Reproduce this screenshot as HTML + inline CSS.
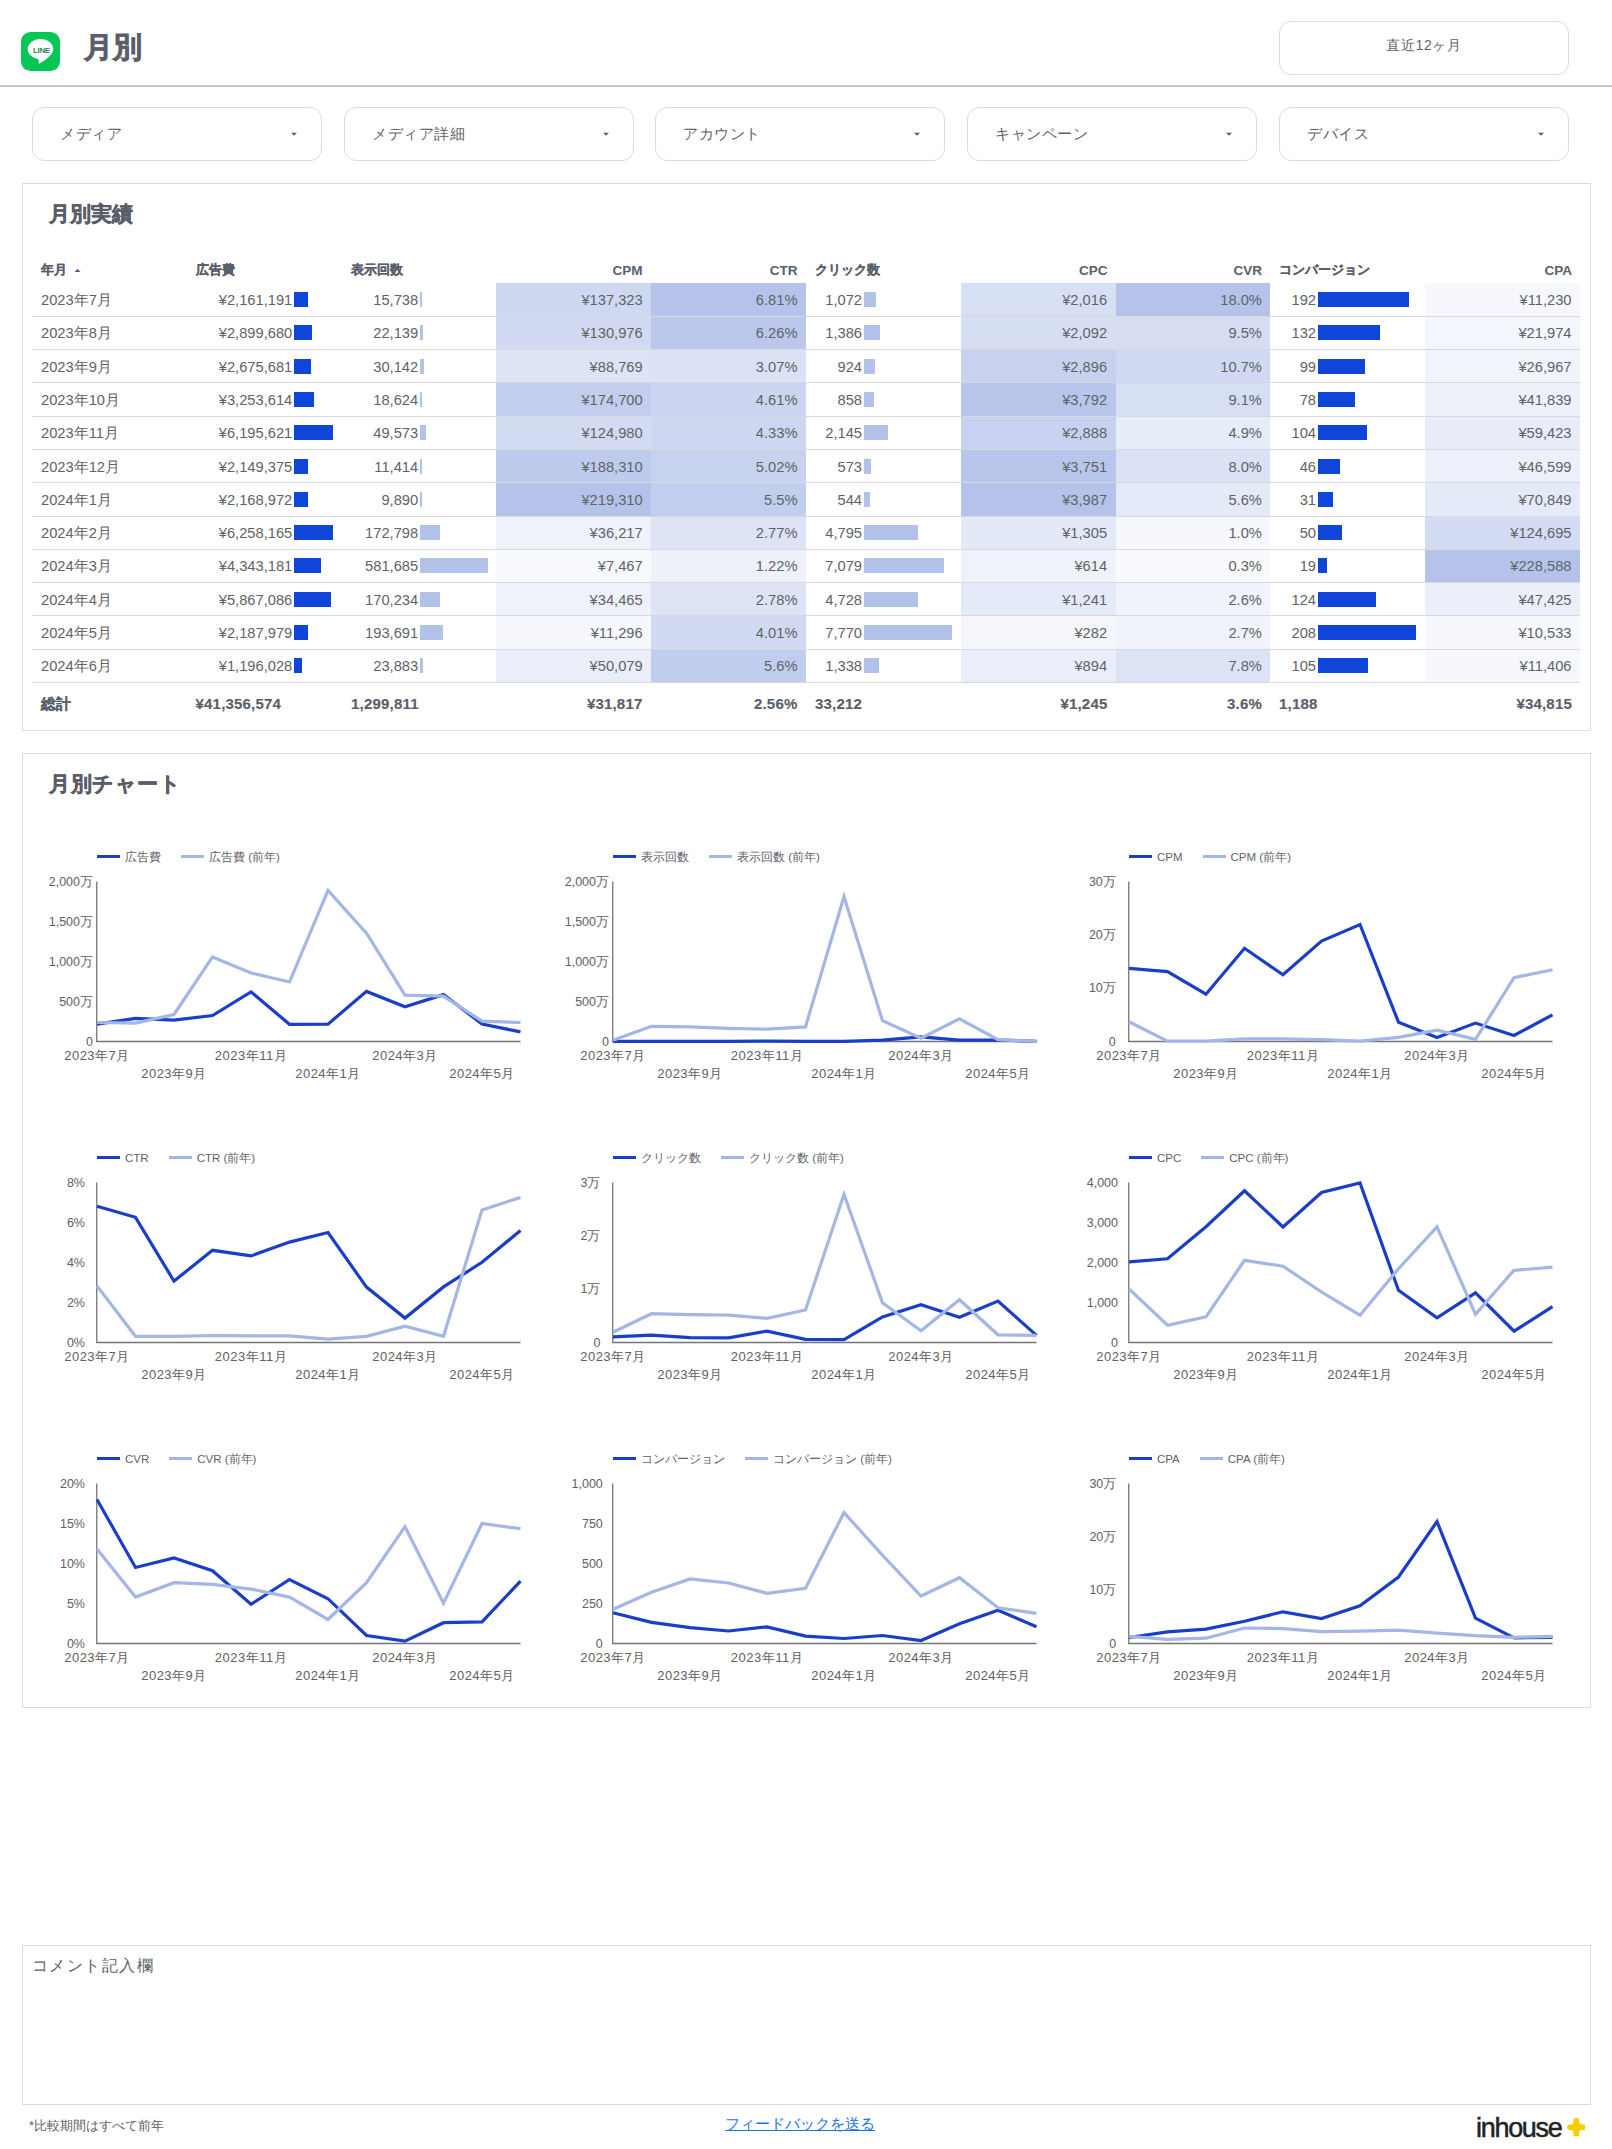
<!DOCTYPE html>
<html lang="ja"><head><meta charset="utf-8"><title>月別</title>
<style>
html,body{margin:0;padding:0;background:#fff;}
body{width:1612px;height:2149px;position:relative;overflow:hidden;font-family:"Liberation Sans",sans-serif;color:#5f6368;}
.a{position:absolute;white-space:nowrap;}
.box{position:absolute;border:1px solid #dadce0;border-radius:12px;box-sizing:border-box;background:#fff;}
.card{position:absolute;border:1px solid #dcdcdc;box-sizing:border-box;background:#fff;}
.r{text-align:right;}
.b{font-weight:bold;}
</style></head><body>

<svg class="a" style="left:21px;top:32px" width="39" height="39" viewBox="0 0 39 39">
<rect x="0" y="0" width="39" height="39" rx="9.5" fill="#06c755"/>
<path d="M19.5 7C12.4 7 6.7 11.5 6.7 17.1c0 4.6 3.9 8.5 9.2 9.6c.8.2 1.8.5 1.9 1.1c.1.5 0 1.3-.1 1.8l-.1.9c0 .5.2 1.4 1.4.8c1.2-.6 6.4-3.9 9.1-6.7c1.9-1.9 4.2-4.2 4.2-7.5C32.3 11.5 26.6 7 19.5 7z" fill="#fff"/>
<text x="20.4" y="20.6" text-anchor="middle" font-family="Liberation Sans" font-weight="bold" font-size="8" letter-spacing="-0.4" fill="#2f8a52">LINE</text>
</svg>
<div class="a b" style="left:84px;top:28px;font-size:28.5px;line-height:38px;color:#5b5f6a;-webkit-text-stroke:0.8px #5b5f6a">月別</div>
<div class="a" style="left:0;top:85px;width:1612px;height:2px;background:#c4c4c4"></div>
<div class="box" style="left:1279px;top:21px;width:290px;height:54px"></div>
<div class="a" style="left:1279px;top:36px;width:290px;text-align:center;font-size:14px;line-height:18px;letter-spacing:0.6px;color:#5f6368">直近12ヶ月</div>
<div class="box" style="left:32px;top:107px;width:290px;height:54px"></div>
<div class="a" style="left:60px;top:125px;font-size:15px;line-height:18px;letter-spacing:0.5px;color:#5f6368">メディア</div>
<svg class="a" style="left:290px;top:132px" width="8" height="5"><path d="M1 0.8L7 0.8L4 3.8z" fill="#5f6368"/></svg>
<div class="box" style="left:344px;top:107px;width:290px;height:54px"></div>
<div class="a" style="left:372px;top:125px;font-size:15px;line-height:18px;letter-spacing:0.5px;color:#5f6368">メディア詳細</div>
<svg class="a" style="left:602px;top:132px" width="8" height="5"><path d="M1 0.8L7 0.8L4 3.8z" fill="#5f6368"/></svg>
<div class="box" style="left:655px;top:107px;width:290px;height:54px"></div>
<div class="a" style="left:683px;top:125px;font-size:15px;line-height:18px;letter-spacing:0.5px;color:#5f6368">アカウント</div>
<svg class="a" style="left:913px;top:132px" width="8" height="5"><path d="M1 0.8L7 0.8L4 3.8z" fill="#5f6368"/></svg>
<div class="box" style="left:967px;top:107px;width:290px;height:54px"></div>
<div class="a" style="left:995px;top:125px;font-size:15px;line-height:18px;letter-spacing:0.5px;color:#5f6368">キャンペーン</div>
<svg class="a" style="left:1225px;top:132px" width="8" height="5"><path d="M1 0.8L7 0.8L4 3.8z" fill="#5f6368"/></svg>
<div class="box" style="left:1279px;top:107px;width:290px;height:54px"></div>
<div class="a" style="left:1307px;top:125px;font-size:15px;line-height:18px;letter-spacing:0.5px;color:#5f6368">デバイス</div>
<svg class="a" style="left:1537px;top:132px" width="8" height="5"><path d="M1 0.8L7 0.8L4 3.8z" fill="#5f6368"/></svg>
<div class="card" style="left:22px;top:183px;width:1569px;height:548px"></div>
<div class="a b" style="left:49px;top:200px;font-size:21px;line-height:28px;color:#585d68;-webkit-text-stroke:0.45px #585d68">月別実績</div>
<div class="a b" style="left:41px;top:262.0px;font-size:12.5px;line-height:16px;color:#5a5f6b;-webkit-text-stroke:0.2px #5a5f6b">年月</div>
<div class="a b" style="left:196px;top:262.0px;font-size:12.5px;line-height:16px;color:#5a5f6b;-webkit-text-stroke:0.2px #5a5f6b">広告費</div>
<div class="a b" style="left:351px;top:262.0px;font-size:12.5px;line-height:16px;color:#5a5f6b;-webkit-text-stroke:0.2px #5a5f6b">表示回数</div>
<div class="a b r" style="left:442.5px;width:200px;top:262.5px;font-size:13.5px;line-height:16px;color:#5a5f6b">CPM</div>
<div class="a b r" style="left:597.5px;width:200px;top:262.5px;font-size:13.5px;line-height:16px;color:#5a5f6b">CTR</div>
<div class="a b" style="left:815px;top:262.0px;font-size:12.5px;line-height:16px;color:#5a5f6b;-webkit-text-stroke:0.2px #5a5f6b">クリック数</div>
<div class="a b r" style="left:907.5px;width:200px;top:262.5px;font-size:13.5px;line-height:16px;color:#5a5f6b">CPC</div>
<div class="a b r" style="left:1062px;width:200px;top:262.5px;font-size:13.5px;line-height:16px;color:#5a5f6b">CVR</div>
<div class="a b" style="left:1279px;top:262.0px;font-size:12.5px;line-height:16px;color:#5a5f6b;-webkit-text-stroke:0.2px #5a5f6b">コンバージョン</div>
<div class="a b r" style="left:1372px;width:200px;top:262.5px;font-size:13.5px;line-height:16px;color:#5a5f6b">CPA</div>
<svg class="a" style="left:74px;top:268px" width="7" height="5"><path d="M0.5 4L6.5 4L3.5 0.8z" fill="#5f6368"/></svg>
<div class="a" style="left:496.4px;top:283.40px;width:154.8px;height:33.30px;background:#cfd8f1"></div>
<div class="a" style="left:496.4px;top:316.70px;width:154.8px;height:33.30px;background:#d1daf2"></div>
<div class="a" style="left:496.4px;top:350.00px;width:154.8px;height:33.30px;background:#dee4f6"></div>
<div class="a" style="left:496.4px;top:383.30px;width:154.8px;height:33.30px;background:#c3ceee"></div>
<div class="a" style="left:496.4px;top:416.60px;width:154.8px;height:33.30px;background:#d3dbf3"></div>
<div class="a" style="left:496.4px;top:449.90px;width:154.8px;height:33.30px;background:#bfcbed"></div>
<div class="a" style="left:496.4px;top:483.20px;width:154.8px;height:33.30px;background:#b5c3ea"></div>
<div class="a" style="left:496.4px;top:516.50px;width:154.8px;height:33.30px;background:#eff2fb"></div>
<div class="a" style="left:496.4px;top:549.80px;width:154.8px;height:33.30px;background:#f8f9fd"></div>
<div class="a" style="left:496.4px;top:583.10px;width:154.8px;height:33.30px;background:#eff2fb"></div>
<div class="a" style="left:496.4px;top:616.40px;width:154.8px;height:33.30px;background:#f6f8fd"></div>
<div class="a" style="left:496.4px;top:649.70px;width:154.8px;height:33.30px;background:#eaeef9"></div>
<div class="a" style="left:651.2px;top:283.40px;width:154.8px;height:33.30px;background:#b5c3ea"></div>
<div class="a" style="left:651.2px;top:316.70px;width:154.8px;height:33.30px;background:#bbc8ec"></div>
<div class="a" style="left:651.2px;top:350.00px;width:154.8px;height:33.30px;background:#dbe2f5"></div>
<div class="a" style="left:651.2px;top:383.30px;width:154.8px;height:33.30px;background:#cbd5f0"></div>
<div class="a" style="left:651.2px;top:416.60px;width:154.8px;height:33.30px;background:#ced7f1"></div>
<div class="a" style="left:651.2px;top:449.90px;width:154.8px;height:33.30px;background:#c7d2ef"></div>
<div class="a" style="left:651.2px;top:483.20px;width:154.8px;height:33.30px;background:#c2ceee"></div>
<div class="a" style="left:651.2px;top:516.50px;width:154.8px;height:33.30px;background:#dee4f6"></div>
<div class="a" style="left:651.2px;top:549.80px;width:154.8px;height:33.30px;background:#eef1fa"></div>
<div class="a" style="left:651.2px;top:583.10px;width:154.8px;height:33.30px;background:#dee4f6"></div>
<div class="a" style="left:651.2px;top:616.40px;width:154.8px;height:33.30px;background:#d1daf2"></div>
<div class="a" style="left:651.2px;top:649.70px;width:154.8px;height:33.30px;background:#c1cdee"></div>
<div class="a" style="left:960.8px;top:283.40px;width:154.8px;height:33.30px;background:#d7dff4"></div>
<div class="a" style="left:960.8px;top:316.70px;width:154.8px;height:33.30px;background:#d6def4"></div>
<div class="a" style="left:960.8px;top:350.00px;width:154.8px;height:33.30px;background:#c8d2ef"></div>
<div class="a" style="left:960.8px;top:383.30px;width:154.8px;height:33.30px;background:#b8c6eb"></div>
<div class="a" style="left:960.8px;top:416.60px;width:154.8px;height:33.30px;background:#c8d2f0"></div>
<div class="a" style="left:960.8px;top:449.90px;width:154.8px;height:33.30px;background:#b9c6eb"></div>
<div class="a" style="left:960.8px;top:483.20px;width:154.8px;height:33.30px;background:#b5c3ea"></div>
<div class="a" style="left:960.8px;top:516.50px;width:154.8px;height:33.30px;background:#e3e9f7"></div>
<div class="a" style="left:960.8px;top:549.80px;width:154.8px;height:33.30px;background:#eff2fb"></div>
<div class="a" style="left:960.8px;top:583.10px;width:154.8px;height:33.30px;background:#e5eaf8"></div>
<div class="a" style="left:960.8px;top:616.40px;width:154.8px;height:33.30px;background:#f5f7fd"></div>
<div class="a" style="left:960.8px;top:649.70px;width:154.8px;height:33.30px;background:#ebeefa"></div>
<div class="a" style="left:1115.6px;top:283.40px;width:154.8px;height:33.30px;background:#b5c3ea"></div>
<div class="a" style="left:1115.6px;top:316.70px;width:154.8px;height:33.30px;background:#d6ddf3"></div>
<div class="a" style="left:1115.6px;top:350.00px;width:154.8px;height:33.30px;background:#d1daf2"></div>
<div class="a" style="left:1115.6px;top:383.30px;width:154.8px;height:33.30px;background:#d7dff4"></div>
<div class="a" style="left:1115.6px;top:416.60px;width:154.8px;height:33.30px;background:#e7ecf9"></div>
<div class="a" style="left:1115.6px;top:449.90px;width:154.8px;height:33.30px;background:#dbe2f5"></div>
<div class="a" style="left:1115.6px;top:483.20px;width:154.8px;height:33.30px;background:#e5eaf8"></div>
<div class="a" style="left:1115.6px;top:516.50px;width:154.8px;height:33.30px;background:#f6f8fd"></div>
<div class="a" style="left:1115.6px;top:549.80px;width:154.8px;height:33.30px;background:#f9fafe"></div>
<div class="a" style="left:1115.6px;top:583.10px;width:154.8px;height:33.30px;background:#f0f3fb"></div>
<div class="a" style="left:1115.6px;top:616.40px;width:154.8px;height:33.30px;background:#f0f3fb"></div>
<div class="a" style="left:1115.6px;top:649.70px;width:154.8px;height:33.30px;background:#dce3f5"></div>
<div class="a" style="left:1425.2px;top:283.40px;width:154.8px;height:33.30px;background:#f7f8fd"></div>
<div class="a" style="left:1425.2px;top:316.70px;width:154.8px;height:33.30px;background:#f3f6fc"></div>
<div class="a" style="left:1425.2px;top:350.00px;width:154.8px;height:33.30px;background:#f2f4fc"></div>
<div class="a" style="left:1425.2px;top:383.30px;width:154.8px;height:33.30px;background:#edf1fa"></div>
<div class="a" style="left:1425.2px;top:416.60px;width:154.8px;height:33.30px;background:#e8ecf9"></div>
<div class="a" style="left:1425.2px;top:449.90px;width:154.8px;height:33.30px;background:#ecf0fa"></div>
<div class="a" style="left:1425.2px;top:483.20px;width:154.8px;height:33.30px;background:#e5eaf8"></div>
<div class="a" style="left:1425.2px;top:516.50px;width:154.8px;height:33.30px;background:#d4dcf3"></div>
<div class="a" style="left:1425.2px;top:549.80px;width:154.8px;height:33.30px;background:#b5c3ea"></div>
<div class="a" style="left:1425.2px;top:583.10px;width:154.8px;height:33.30px;background:#eceffa"></div>
<div class="a" style="left:1425.2px;top:616.40px;width:154.8px;height:33.30px;background:#f7f8fd"></div>
<div class="a" style="left:1425.2px;top:649.70px;width:154.8px;height:33.30px;background:#f7f8fd"></div>
<div class="a" style="left:32px;top:315.70px;width:1548px;height:1px;background:#d9d9dc"></div>
<div class="a" style="left:32px;top:349.00px;width:1548px;height:1px;background:#d9d9dc"></div>
<div class="a" style="left:32px;top:382.30px;width:1548px;height:1px;background:#d9d9dc"></div>
<div class="a" style="left:32px;top:415.60px;width:1548px;height:1px;background:#d9d9dc"></div>
<div class="a" style="left:32px;top:448.90px;width:1548px;height:1px;background:#d9d9dc"></div>
<div class="a" style="left:32px;top:482.20px;width:1548px;height:1px;background:#d9d9dc"></div>
<div class="a" style="left:32px;top:515.50px;width:1548px;height:1px;background:#d9d9dc"></div>
<div class="a" style="left:32px;top:548.80px;width:1548px;height:1px;background:#d9d9dc"></div>
<div class="a" style="left:32px;top:582.10px;width:1548px;height:1px;background:#d9d9dc"></div>
<div class="a" style="left:32px;top:615.40px;width:1548px;height:1px;background:#d9d9dc"></div>
<div class="a" style="left:32px;top:648.70px;width:1548px;height:1px;background:#d9d9dc"></div>
<div class="a" style="left:32px;top:682.00px;width:1548px;height:1px;background:#d9d9dc"></div>
<div class="a" style="left:41px;top:290.05px;font-size:14.7px;line-height:20px;">2023年7月</div>
<div class="a r" style="left:92.30000000000001px;width:200px;top:290.05px;font-size:14.7px;line-height:20px;">¥2,161,191</div>
<div class="a" style="left:294.3px;top:292.05px;width:13.4px;height:15px;background:#0f46d9"></div>
<div class="a r" style="left:218.2px;width:200px;top:290.05px;font-size:14.7px;line-height:20px;">15,738</div>
<div class="a" style="left:420.2px;top:292.05px;width:1.8px;height:15px;background:#b3c2e8"></div>
<div class="a r" style="left:662px;width:200px;top:290.05px;font-size:14.7px;line-height:20px;">1,072</div>
<div class="a" style="left:864px;top:292.05px;width:12.1px;height:15px;background:#b3c2e8"></div>
<div class="a r" style="left:1116px;width:200px;top:290.05px;font-size:14.7px;line-height:20px;">192</div>
<div class="a" style="left:1318px;top:292.05px;width:90.5px;height:15px;background:#0f46d9"></div>
<div class="a r" style="left:442.70000000000005px;width:200px;top:290.05px;font-size:14.7px;line-height:20px;">¥137,323</div>
<div class="a r" style="left:597.5px;width:200px;top:290.05px;font-size:14.7px;line-height:20px;">6.81%</div>
<div class="a r" style="left:907.1000000000001px;width:200px;top:290.05px;font-size:14.7px;line-height:20px;">¥2,016</div>
<div class="a r" style="left:1061.9px;width:200px;top:290.05px;font-size:14.7px;line-height:20px;">18.0%</div>
<div class="a r" style="left:1371.5px;width:200px;top:290.05px;font-size:14.7px;line-height:20px;">¥11,230</div>
<div class="a" style="left:41px;top:323.35px;font-size:14.7px;line-height:20px;">2023年8月</div>
<div class="a r" style="left:92.30000000000001px;width:200px;top:323.35px;font-size:14.7px;line-height:20px;">¥2,899,680</div>
<div class="a" style="left:294.3px;top:325.35px;width:17.9px;height:15px;background:#0f46d9"></div>
<div class="a r" style="left:218.2px;width:200px;top:323.35px;font-size:14.7px;line-height:20px;">22,139</div>
<div class="a" style="left:420.2px;top:325.35px;width:2.6px;height:15px;background:#b3c2e8"></div>
<div class="a r" style="left:662px;width:200px;top:323.35px;font-size:14.7px;line-height:20px;">1,386</div>
<div class="a" style="left:864px;top:325.35px;width:15.7px;height:15px;background:#b3c2e8"></div>
<div class="a r" style="left:1116px;width:200px;top:323.35px;font-size:14.7px;line-height:20px;">132</div>
<div class="a" style="left:1318px;top:325.35px;width:62.2px;height:15px;background:#0f46d9"></div>
<div class="a r" style="left:442.70000000000005px;width:200px;top:323.35px;font-size:14.7px;line-height:20px;">¥130,976</div>
<div class="a r" style="left:597.5px;width:200px;top:323.35px;font-size:14.7px;line-height:20px;">6.26%</div>
<div class="a r" style="left:907.1000000000001px;width:200px;top:323.35px;font-size:14.7px;line-height:20px;">¥2,092</div>
<div class="a r" style="left:1061.9px;width:200px;top:323.35px;font-size:14.7px;line-height:20px;">9.5%</div>
<div class="a r" style="left:1371.5px;width:200px;top:323.35px;font-size:14.7px;line-height:20px;">¥21,974</div>
<div class="a" style="left:41px;top:356.65px;font-size:14.7px;line-height:20px;">2023年9月</div>
<div class="a r" style="left:92.30000000000001px;width:200px;top:356.65px;font-size:14.7px;line-height:20px;">¥2,675,681</div>
<div class="a" style="left:294.3px;top:358.65px;width:16.5px;height:15px;background:#0f46d9"></div>
<div class="a r" style="left:218.2px;width:200px;top:356.65px;font-size:14.7px;line-height:20px;">30,142</div>
<div class="a" style="left:420.2px;top:358.65px;width:3.5px;height:15px;background:#b3c2e8"></div>
<div class="a r" style="left:662px;width:200px;top:356.65px;font-size:14.7px;line-height:20px;">924</div>
<div class="a" style="left:864px;top:358.65px;width:10.5px;height:15px;background:#b3c2e8"></div>
<div class="a r" style="left:1116px;width:200px;top:356.65px;font-size:14.7px;line-height:20px;">99</div>
<div class="a" style="left:1318px;top:358.65px;width:46.6px;height:15px;background:#0f46d9"></div>
<div class="a r" style="left:442.70000000000005px;width:200px;top:356.65px;font-size:14.7px;line-height:20px;">¥88,769</div>
<div class="a r" style="left:597.5px;width:200px;top:356.65px;font-size:14.7px;line-height:20px;">3.07%</div>
<div class="a r" style="left:907.1000000000001px;width:200px;top:356.65px;font-size:14.7px;line-height:20px;">¥2,896</div>
<div class="a r" style="left:1061.9px;width:200px;top:356.65px;font-size:14.7px;line-height:20px;">10.7%</div>
<div class="a r" style="left:1371.5px;width:200px;top:356.65px;font-size:14.7px;line-height:20px;">¥26,967</div>
<div class="a" style="left:41px;top:389.95px;font-size:14.7px;line-height:20px;">2023年10月</div>
<div class="a r" style="left:92.30000000000001px;width:200px;top:389.95px;font-size:14.7px;line-height:20px;">¥3,253,614</div>
<div class="a" style="left:294.3px;top:391.95px;width:20.1px;height:15px;background:#0f46d9"></div>
<div class="a r" style="left:218.2px;width:200px;top:389.95px;font-size:14.7px;line-height:20px;">18,624</div>
<div class="a" style="left:420.2px;top:391.95px;width:2.2px;height:15px;background:#b3c2e8"></div>
<div class="a r" style="left:662px;width:200px;top:389.95px;font-size:14.7px;line-height:20px;">858</div>
<div class="a" style="left:864px;top:391.95px;width:9.7px;height:15px;background:#b3c2e8"></div>
<div class="a r" style="left:1116px;width:200px;top:389.95px;font-size:14.7px;line-height:20px;">78</div>
<div class="a" style="left:1318px;top:391.95px;width:36.8px;height:15px;background:#0f46d9"></div>
<div class="a r" style="left:442.70000000000005px;width:200px;top:389.95px;font-size:14.7px;line-height:20px;">¥174,700</div>
<div class="a r" style="left:597.5px;width:200px;top:389.95px;font-size:14.7px;line-height:20px;">4.61%</div>
<div class="a r" style="left:907.1000000000001px;width:200px;top:389.95px;font-size:14.7px;line-height:20px;">¥3,792</div>
<div class="a r" style="left:1061.9px;width:200px;top:389.95px;font-size:14.7px;line-height:20px;">9.1%</div>
<div class="a r" style="left:1371.5px;width:200px;top:389.95px;font-size:14.7px;line-height:20px;">¥41,839</div>
<div class="a" style="left:41px;top:423.25px;font-size:14.7px;line-height:20px;">2023年11月</div>
<div class="a r" style="left:92.30000000000001px;width:200px;top:423.25px;font-size:14.7px;line-height:20px;">¥6,195,621</div>
<div class="a" style="left:294.3px;top:425.25px;width:38.3px;height:15px;background:#0f46d9"></div>
<div class="a r" style="left:218.2px;width:200px;top:423.25px;font-size:14.7px;line-height:20px;">49,573</div>
<div class="a" style="left:420.2px;top:425.25px;width:5.8px;height:15px;background:#b3c2e8"></div>
<div class="a r" style="left:662px;width:200px;top:423.25px;font-size:14.7px;line-height:20px;">2,145</div>
<div class="a" style="left:864px;top:425.25px;width:24.3px;height:15px;background:#b3c2e8"></div>
<div class="a r" style="left:1116px;width:200px;top:423.25px;font-size:14.7px;line-height:20px;">104</div>
<div class="a" style="left:1318px;top:425.25px;width:49.0px;height:15px;background:#0f46d9"></div>
<div class="a r" style="left:442.70000000000005px;width:200px;top:423.25px;font-size:14.7px;line-height:20px;">¥124,980</div>
<div class="a r" style="left:597.5px;width:200px;top:423.25px;font-size:14.7px;line-height:20px;">4.33%</div>
<div class="a r" style="left:907.1000000000001px;width:200px;top:423.25px;font-size:14.7px;line-height:20px;">¥2,888</div>
<div class="a r" style="left:1061.9px;width:200px;top:423.25px;font-size:14.7px;line-height:20px;">4.9%</div>
<div class="a r" style="left:1371.5px;width:200px;top:423.25px;font-size:14.7px;line-height:20px;">¥59,423</div>
<div class="a" style="left:41px;top:456.55px;font-size:14.7px;line-height:20px;">2023年12月</div>
<div class="a r" style="left:92.30000000000001px;width:200px;top:456.55px;font-size:14.7px;line-height:20px;">¥2,149,375</div>
<div class="a" style="left:294.3px;top:458.55px;width:13.3px;height:15px;background:#0f46d9"></div>
<div class="a r" style="left:218.2px;width:200px;top:456.55px;font-size:14.7px;line-height:20px;">11,414</div>
<div class="a" style="left:420.2px;top:458.55px;width:1.5px;height:15px;background:#b3c2e8"></div>
<div class="a r" style="left:662px;width:200px;top:456.55px;font-size:14.7px;line-height:20px;">573</div>
<div class="a" style="left:864px;top:458.55px;width:6.5px;height:15px;background:#b3c2e8"></div>
<div class="a r" style="left:1116px;width:200px;top:456.55px;font-size:14.7px;line-height:20px;">46</div>
<div class="a" style="left:1318px;top:458.55px;width:21.7px;height:15px;background:#0f46d9"></div>
<div class="a r" style="left:442.70000000000005px;width:200px;top:456.55px;font-size:14.7px;line-height:20px;">¥188,310</div>
<div class="a r" style="left:597.5px;width:200px;top:456.55px;font-size:14.7px;line-height:20px;">5.02%</div>
<div class="a r" style="left:907.1000000000001px;width:200px;top:456.55px;font-size:14.7px;line-height:20px;">¥3,751</div>
<div class="a r" style="left:1061.9px;width:200px;top:456.55px;font-size:14.7px;line-height:20px;">8.0%</div>
<div class="a r" style="left:1371.5px;width:200px;top:456.55px;font-size:14.7px;line-height:20px;">¥46,599</div>
<div class="a" style="left:41px;top:489.85px;font-size:14.7px;line-height:20px;">2024年1月</div>
<div class="a r" style="left:92.30000000000001px;width:200px;top:489.85px;font-size:14.7px;line-height:20px;">¥2,168,972</div>
<div class="a" style="left:294.3px;top:491.85px;width:13.4px;height:15px;background:#0f46d9"></div>
<div class="a r" style="left:218.2px;width:200px;top:489.85px;font-size:14.7px;line-height:20px;">9,890</div>
<div class="a" style="left:420.2px;top:491.85px;width:1.5px;height:15px;background:#b3c2e8"></div>
<div class="a r" style="left:662px;width:200px;top:489.85px;font-size:14.7px;line-height:20px;">544</div>
<div class="a" style="left:864px;top:491.85px;width:6.2px;height:15px;background:#b3c2e8"></div>
<div class="a r" style="left:1116px;width:200px;top:489.85px;font-size:14.7px;line-height:20px;">31</div>
<div class="a" style="left:1318px;top:491.85px;width:14.6px;height:15px;background:#0f46d9"></div>
<div class="a r" style="left:442.70000000000005px;width:200px;top:489.85px;font-size:14.7px;line-height:20px;">¥219,310</div>
<div class="a r" style="left:597.5px;width:200px;top:489.85px;font-size:14.7px;line-height:20px;">5.5%</div>
<div class="a r" style="left:907.1000000000001px;width:200px;top:489.85px;font-size:14.7px;line-height:20px;">¥3,987</div>
<div class="a r" style="left:1061.9px;width:200px;top:489.85px;font-size:14.7px;line-height:20px;">5.6%</div>
<div class="a r" style="left:1371.5px;width:200px;top:489.85px;font-size:14.7px;line-height:20px;">¥70,849</div>
<div class="a" style="left:41px;top:523.15px;font-size:14.7px;line-height:20px;">2024年2月</div>
<div class="a r" style="left:92.30000000000001px;width:200px;top:523.15px;font-size:14.7px;line-height:20px;">¥6,258,165</div>
<div class="a" style="left:294.3px;top:525.15px;width:38.7px;height:15px;background:#0f46d9"></div>
<div class="a r" style="left:218.2px;width:200px;top:523.15px;font-size:14.7px;line-height:20px;">172,798</div>
<div class="a" style="left:420.2px;top:525.15px;width:20.1px;height:15px;background:#b3c2e8"></div>
<div class="a r" style="left:662px;width:200px;top:523.15px;font-size:14.7px;line-height:20px;">4,795</div>
<div class="a" style="left:864px;top:525.15px;width:54.3px;height:15px;background:#b3c2e8"></div>
<div class="a r" style="left:1116px;width:200px;top:523.15px;font-size:14.7px;line-height:20px;">50</div>
<div class="a" style="left:1318px;top:525.15px;width:23.6px;height:15px;background:#0f46d9"></div>
<div class="a r" style="left:442.70000000000005px;width:200px;top:523.15px;font-size:14.7px;line-height:20px;">¥36,217</div>
<div class="a r" style="left:597.5px;width:200px;top:523.15px;font-size:14.7px;line-height:20px;">2.77%</div>
<div class="a r" style="left:907.1000000000001px;width:200px;top:523.15px;font-size:14.7px;line-height:20px;">¥1,305</div>
<div class="a r" style="left:1061.9px;width:200px;top:523.15px;font-size:14.7px;line-height:20px;">1.0%</div>
<div class="a r" style="left:1371.5px;width:200px;top:523.15px;font-size:14.7px;line-height:20px;">¥124,695</div>
<div class="a" style="left:41px;top:556.45px;font-size:14.7px;line-height:20px;">2024年3月</div>
<div class="a r" style="left:92.30000000000001px;width:200px;top:556.45px;font-size:14.7px;line-height:20px;">¥4,343,181</div>
<div class="a" style="left:294.3px;top:558.45px;width:26.9px;height:15px;background:#0f46d9"></div>
<div class="a r" style="left:218.2px;width:200px;top:556.45px;font-size:14.7px;line-height:20px;">581,685</div>
<div class="a" style="left:420.2px;top:558.45px;width:67.5px;height:15px;background:#b3c2e8"></div>
<div class="a r" style="left:662px;width:200px;top:556.45px;font-size:14.7px;line-height:20px;">7,079</div>
<div class="a" style="left:864px;top:558.45px;width:80.2px;height:15px;background:#b3c2e8"></div>
<div class="a r" style="left:1116px;width:200px;top:556.45px;font-size:14.7px;line-height:20px;">19</div>
<div class="a" style="left:1318px;top:558.45px;width:9.0px;height:15px;background:#0f46d9"></div>
<div class="a r" style="left:442.70000000000005px;width:200px;top:556.45px;font-size:14.7px;line-height:20px;">¥7,467</div>
<div class="a r" style="left:597.5px;width:200px;top:556.45px;font-size:14.7px;line-height:20px;">1.22%</div>
<div class="a r" style="left:907.1000000000001px;width:200px;top:556.45px;font-size:14.7px;line-height:20px;">¥614</div>
<div class="a r" style="left:1061.9px;width:200px;top:556.45px;font-size:14.7px;line-height:20px;">0.3%</div>
<div class="a r" style="left:1371.5px;width:200px;top:556.45px;font-size:14.7px;line-height:20px;">¥228,588</div>
<div class="a" style="left:41px;top:589.75px;font-size:14.7px;line-height:20px;">2024年4月</div>
<div class="a r" style="left:92.30000000000001px;width:200px;top:589.75px;font-size:14.7px;line-height:20px;">¥5,867,086</div>
<div class="a" style="left:294.3px;top:591.75px;width:36.3px;height:15px;background:#0f46d9"></div>
<div class="a r" style="left:218.2px;width:200px;top:589.75px;font-size:14.7px;line-height:20px;">170,234</div>
<div class="a" style="left:420.2px;top:591.75px;width:19.8px;height:15px;background:#b3c2e8"></div>
<div class="a r" style="left:662px;width:200px;top:589.75px;font-size:14.7px;line-height:20px;">4,728</div>
<div class="a" style="left:864px;top:591.75px;width:53.5px;height:15px;background:#b3c2e8"></div>
<div class="a r" style="left:1116px;width:200px;top:589.75px;font-size:14.7px;line-height:20px;">124</div>
<div class="a" style="left:1318px;top:591.75px;width:58.4px;height:15px;background:#0f46d9"></div>
<div class="a r" style="left:442.70000000000005px;width:200px;top:589.75px;font-size:14.7px;line-height:20px;">¥34,465</div>
<div class="a r" style="left:597.5px;width:200px;top:589.75px;font-size:14.7px;line-height:20px;">2.78%</div>
<div class="a r" style="left:907.1000000000001px;width:200px;top:589.75px;font-size:14.7px;line-height:20px;">¥1,241</div>
<div class="a r" style="left:1061.9px;width:200px;top:589.75px;font-size:14.7px;line-height:20px;">2.6%</div>
<div class="a r" style="left:1371.5px;width:200px;top:589.75px;font-size:14.7px;line-height:20px;">¥47,425</div>
<div class="a" style="left:41px;top:623.05px;font-size:14.7px;line-height:20px;">2024年5月</div>
<div class="a r" style="left:92.30000000000001px;width:200px;top:623.05px;font-size:14.7px;line-height:20px;">¥2,187,979</div>
<div class="a" style="left:294.3px;top:625.05px;width:13.5px;height:15px;background:#0f46d9"></div>
<div class="a r" style="left:218.2px;width:200px;top:623.05px;font-size:14.7px;line-height:20px;">193,691</div>
<div class="a" style="left:420.2px;top:625.05px;width:22.5px;height:15px;background:#b3c2e8"></div>
<div class="a r" style="left:662px;width:200px;top:623.05px;font-size:14.7px;line-height:20px;">7,770</div>
<div class="a" style="left:864px;top:625.05px;width:88.0px;height:15px;background:#b3c2e8"></div>
<div class="a r" style="left:1116px;width:200px;top:623.05px;font-size:14.7px;line-height:20px;">208</div>
<div class="a" style="left:1318px;top:625.05px;width:98.0px;height:15px;background:#0f46d9"></div>
<div class="a r" style="left:442.70000000000005px;width:200px;top:623.05px;font-size:14.7px;line-height:20px;">¥11,296</div>
<div class="a r" style="left:597.5px;width:200px;top:623.05px;font-size:14.7px;line-height:20px;">4.01%</div>
<div class="a r" style="left:907.1000000000001px;width:200px;top:623.05px;font-size:14.7px;line-height:20px;">¥282</div>
<div class="a r" style="left:1061.9px;width:200px;top:623.05px;font-size:14.7px;line-height:20px;">2.7%</div>
<div class="a r" style="left:1371.5px;width:200px;top:623.05px;font-size:14.7px;line-height:20px;">¥10,533</div>
<div class="a" style="left:41px;top:656.35px;font-size:14.7px;line-height:20px;">2024年6月</div>
<div class="a r" style="left:92.30000000000001px;width:200px;top:656.35px;font-size:14.7px;line-height:20px;">¥1,196,028</div>
<div class="a" style="left:294.3px;top:658.35px;width:7.4px;height:15px;background:#0f46d9"></div>
<div class="a r" style="left:218.2px;width:200px;top:656.35px;font-size:14.7px;line-height:20px;">23,883</div>
<div class="a" style="left:420.2px;top:658.35px;width:2.8px;height:15px;background:#b3c2e8"></div>
<div class="a r" style="left:662px;width:200px;top:656.35px;font-size:14.7px;line-height:20px;">1,338</div>
<div class="a" style="left:864px;top:658.35px;width:15.2px;height:15px;background:#b3c2e8"></div>
<div class="a r" style="left:1116px;width:200px;top:656.35px;font-size:14.7px;line-height:20px;">105</div>
<div class="a" style="left:1318px;top:658.35px;width:49.5px;height:15px;background:#0f46d9"></div>
<div class="a r" style="left:442.70000000000005px;width:200px;top:656.35px;font-size:14.7px;line-height:20px;">¥50,079</div>
<div class="a r" style="left:597.5px;width:200px;top:656.35px;font-size:14.7px;line-height:20px;">5.6%</div>
<div class="a r" style="left:907.1000000000001px;width:200px;top:656.35px;font-size:14.7px;line-height:20px;">¥894</div>
<div class="a r" style="left:1061.9px;width:200px;top:656.35px;font-size:14.7px;line-height:20px;">7.8%</div>
<div class="a r" style="left:1371.5px;width:200px;top:656.35px;font-size:14.7px;line-height:20px;">¥11,406</div>
<div class="a b" style="left:41px;top:693.5px;font-size:15px;line-height:20px;letter-spacing:0.2px;color:#5a5f6b;-webkit-text-stroke:0.15px #5a5f6b">総計</div>
<div class="a b" style="left:195.5px;top:693.5px;font-size:15px;line-height:20px;letter-spacing:0.2px;color:#5a5f6b;-webkit-text-stroke:0.15px #5a5f6b">¥41,356,574</div>
<div class="a b" style="left:351px;top:693.5px;font-size:15px;line-height:20px;letter-spacing:0.2px;color:#5a5f6b;-webkit-text-stroke:0.15px #5a5f6b">1,299,811</div>
<div class="a b r" style="left:442.5px;width:200px;top:693.5px;font-size:15px;line-height:20px;letter-spacing:0.2px;color:#5a5f6b;-webkit-text-stroke:0.15px #5a5f6b">¥31,817</div>
<div class="a b r" style="left:597.5px;width:200px;top:693.5px;font-size:15px;line-height:20px;letter-spacing:0.2px;color:#5a5f6b;-webkit-text-stroke:0.15px #5a5f6b">2.56%</div>
<div class="a b" style="left:815px;top:693.5px;font-size:15px;line-height:20px;letter-spacing:0.2px;color:#5a5f6b;-webkit-text-stroke:0.15px #5a5f6b">33,212</div>
<div class="a b r" style="left:907.5px;width:200px;top:693.5px;font-size:15px;line-height:20px;letter-spacing:0.2px;color:#5a5f6b;-webkit-text-stroke:0.15px #5a5f6b">¥1,245</div>
<div class="a b r" style="left:1062px;width:200px;top:693.5px;font-size:15px;line-height:20px;letter-spacing:0.2px;color:#5a5f6b;-webkit-text-stroke:0.15px #5a5f6b">3.6%</div>
<div class="a b" style="left:1279px;top:693.5px;font-size:15px;line-height:20px;letter-spacing:0.2px;color:#5a5f6b;-webkit-text-stroke:0.15px #5a5f6b">1,188</div>
<div class="a b r" style="left:1372px;width:200px;top:693.5px;font-size:15px;line-height:20px;letter-spacing:0.2px;color:#5a5f6b;-webkit-text-stroke:0.15px #5a5f6b">¥34,815</div>
<div class="card" style="left:22px;top:753px;width:1569px;height:955px"></div>
<div class="a b" style="left:49px;top:770px;font-size:21px;line-height:28px;letter-spacing:0.5px;color:#585d68;-webkit-text-stroke:0.45px #585d68">月別チャート</div>
<div class="a" style="left:97px;top:848.5px;height:16px;display:flex;align-items:center;font-size:11.5px;line-height:16px;color:#5f6368"><span style="display:inline-block;width:23px;height:3px;background:#1a3fc6"></span><span style="margin-left:5px">広告費</span><span style="display:inline-block;width:23px;height:3px;background:#a3b6e6;margin-left:20px"></span><span style="margin-left:5px">広告費 (前年)</span></div>
<div class="a r" style="left:-57px;width:150px;top:1033.5px;font-size:12.5px;line-height:16px;color:#616161">0</div>
<div class="a r" style="left:-57px;width:150px;top:993.5px;font-size:12.5px;line-height:16px;color:#616161">500万</div>
<div class="a r" style="left:-57px;width:150px;top:953.5px;font-size:12.5px;line-height:16px;color:#616161">1,000万</div>
<div class="a r" style="left:-57px;width:150px;top:913.5px;font-size:12.5px;line-height:16px;color:#616161">1,500万</div>
<div class="a r" style="left:-57px;width:150px;top:873.5px;font-size:12.5px;line-height:16px;color:#616161">2,000万</div>
<div class="a" style="left:-3.0px;width:200px;text-align:center;top:1048.0px;font-size:13px;line-height:16px;letter-spacing:0.5px;color:#616161">2023年7月</div>
<div class="a" style="left:151.0px;width:200px;text-align:center;top:1048.0px;font-size:13px;line-height:16px;letter-spacing:0.5px;color:#616161">2023年11月</div>
<div class="a" style="left:305.0px;width:200px;text-align:center;top:1048.0px;font-size:13px;line-height:16px;letter-spacing:0.5px;color:#616161">2024年3月</div>
<div class="a" style="left:74.0px;width:200px;text-align:center;top:1065.5px;font-size:13px;line-height:16px;letter-spacing:0.5px;color:#616161">2023年9月</div>
<div class="a" style="left:228.0px;width:200px;text-align:center;top:1065.5px;font-size:13px;line-height:16px;letter-spacing:0.5px;color:#616161">2024年1月</div>
<div class="a" style="left:382.0px;width:200px;text-align:center;top:1065.5px;font-size:13px;line-height:16px;letter-spacing:0.5px;color:#616161">2024年5月</div>
<svg class="a" style="left:0;top:0" width="1612" height="2149" viewBox="0 0 1612 2149"><path d="M96.75 881.5V1041.5H520.5" fill="none" stroke="#757575" stroke-width="1.3"/><polyline points="97.0,1024.2 135.5,1018.3 174.0,1020.1 212.5,1015.5 251.0,991.9 289.5,1024.3 328.0,1024.1 366.5,991.4 405.0,1006.8 443.5,994.6 482.0,1024.0 520.5,1031.9" fill="none" stroke="#1a3fc6" stroke-width="3.2" stroke-linejoin="miter"/><polyline points="97.0,1022.5 135.5,1023.1 174.0,1014.5 212.5,956.9 251.0,972.9 289.5,982.0 328.0,890.5 366.5,933.1 405.0,995.1 443.5,996.1 482.0,1021.2 520.5,1022.5" fill="none" stroke="#a3b6e6" stroke-width="3.2" stroke-linejoin="miter"/></svg>
<div class="a" style="left:613px;top:848.5px;height:16px;display:flex;align-items:center;font-size:11.5px;line-height:16px;color:#5f6368"><span style="display:inline-block;width:23px;height:3px;background:#1a3fc6"></span><span style="margin-left:5px">表示回数</span><span style="display:inline-block;width:23px;height:3px;background:#a3b6e6;margin-left:20px"></span><span style="margin-left:5px">表示回数 (前年)</span></div>
<div class="a r" style="left:459px;width:150px;top:1033.5px;font-size:12.5px;line-height:16px;color:#616161">0</div>
<div class="a r" style="left:459px;width:150px;top:993.5px;font-size:12.5px;line-height:16px;color:#616161">500万</div>
<div class="a r" style="left:459px;width:150px;top:953.5px;font-size:12.5px;line-height:16px;color:#616161">1,000万</div>
<div class="a r" style="left:459px;width:150px;top:913.5px;font-size:12.5px;line-height:16px;color:#616161">1,500万</div>
<div class="a r" style="left:459px;width:150px;top:873.5px;font-size:12.5px;line-height:16px;color:#616161">2,000万</div>
<div class="a" style="left:513.0px;width:200px;text-align:center;top:1048.0px;font-size:13px;line-height:16px;letter-spacing:0.5px;color:#616161">2023年7月</div>
<div class="a" style="left:667.0px;width:200px;text-align:center;top:1048.0px;font-size:13px;line-height:16px;letter-spacing:0.5px;color:#616161">2023年11月</div>
<div class="a" style="left:821.0px;width:200px;text-align:center;top:1048.0px;font-size:13px;line-height:16px;letter-spacing:0.5px;color:#616161">2024年3月</div>
<div class="a" style="left:590.0px;width:200px;text-align:center;top:1065.5px;font-size:13px;line-height:16px;letter-spacing:0.5px;color:#616161">2023年9月</div>
<div class="a" style="left:744.0px;width:200px;text-align:center;top:1065.5px;font-size:13px;line-height:16px;letter-spacing:0.5px;color:#616161">2024年1月</div>
<div class="a" style="left:898.0px;width:200px;text-align:center;top:1065.5px;font-size:13px;line-height:16px;letter-spacing:0.5px;color:#616161">2024年5月</div>
<svg class="a" style="left:0;top:0" width="1612" height="2149" viewBox="0 0 1612 2149"><path d="M612.75 881.5V1041.5H1036.5" fill="none" stroke="#757575" stroke-width="1.3"/><polyline points="613.0,1041.4 651.5,1041.3 690.0,1041.3 728.5,1041.4 767.0,1041.1 805.5,1041.4 844.0,1041.4 882.5,1040.1 921.0,1036.8 959.5,1040.1 998.0,1040.0 1036.5,1041.3" fill="none" stroke="#1a3fc6" stroke-width="3.2" stroke-linejoin="miter"/><polyline points="613.0,1040.3 651.5,1026.3 690.0,1026.9 728.5,1028.3 767.0,1029.1 805.5,1026.9 844.0,896.5 882.5,1020.7 921.0,1038.3 959.5,1018.8 998.0,1039.7 1036.5,1041.3" fill="none" stroke="#a3b6e6" stroke-width="3.2" stroke-linejoin="miter"/></svg>
<div class="a" style="left:1129px;top:848.5px;height:16px;display:flex;align-items:center;font-size:11.5px;line-height:16px;color:#5f6368"><span style="display:inline-block;width:23px;height:3px;background:#1a3fc6"></span><span style="margin-left:5px">CPM</span><span style="display:inline-block;width:23px;height:3px;background:#a3b6e6;margin-left:20px"></span><span style="margin-left:5px">CPM (前年)</span></div>
<div class="a r" style="left:965.8px;width:150px;top:1033.5px;font-size:12.5px;line-height:16px;color:#616161">0</div>
<div class="a r" style="left:965.8px;width:150px;top:980.2px;font-size:12.5px;line-height:16px;color:#616161">10万</div>
<div class="a r" style="left:965.8px;width:150px;top:926.8px;font-size:12.5px;line-height:16px;color:#616161">20万</div>
<div class="a r" style="left:965.8px;width:150px;top:873.5px;font-size:12.5px;line-height:16px;color:#616161">30万</div>
<div class="a" style="left:1029.0px;width:200px;text-align:center;top:1048.0px;font-size:13px;line-height:16px;letter-spacing:0.5px;color:#616161">2023年7月</div>
<div class="a" style="left:1183.0px;width:200px;text-align:center;top:1048.0px;font-size:13px;line-height:16px;letter-spacing:0.5px;color:#616161">2023年11月</div>
<div class="a" style="left:1337.0px;width:200px;text-align:center;top:1048.0px;font-size:13px;line-height:16px;letter-spacing:0.5px;color:#616161">2024年3月</div>
<div class="a" style="left:1106.0px;width:200px;text-align:center;top:1065.5px;font-size:13px;line-height:16px;letter-spacing:0.5px;color:#616161">2023年9月</div>
<div class="a" style="left:1260.0px;width:200px;text-align:center;top:1065.5px;font-size:13px;line-height:16px;letter-spacing:0.5px;color:#616161">2024年1月</div>
<div class="a" style="left:1414.0px;width:200px;text-align:center;top:1065.5px;font-size:13px;line-height:16px;letter-spacing:0.5px;color:#616161">2024年5月</div>
<svg class="a" style="left:0;top:0" width="1612" height="2149" viewBox="0 0 1612 2149"><path d="M1128.75 881.5V1041.5H1552.5" fill="none" stroke="#757575" stroke-width="1.3"/><polyline points="1129.0,968.3 1167.5,971.6 1206.0,994.2 1244.5,948.3 1283.0,974.8 1321.5,941.1 1360.0,924.5 1398.5,1022.2 1437.0,1037.5 1475.5,1023.1 1514.0,1035.5 1552.5,1014.8" fill="none" stroke="#1a3fc6" stroke-width="3.2" stroke-linejoin="miter"/><polyline points="1129.0,1021.7 1167.5,1041.2 1206.0,1041.2 1244.5,1038.8 1283.0,1038.8 1321.5,1039.6 1360.0,1041.1 1398.5,1037.4 1437.0,1030.2 1475.5,1039.4 1514.0,977.7 1552.5,969.7" fill="none" stroke="#a3b6e6" stroke-width="3.2" stroke-linejoin="miter"/></svg>
<div class="a" style="left:97px;top:1149.5px;height:16px;display:flex;align-items:center;font-size:11.5px;line-height:16px;color:#5f6368"><span style="display:inline-block;width:23px;height:3px;background:#1a3fc6"></span><span style="margin-left:5px">CTR</span><span style="display:inline-block;width:23px;height:3px;background:#a3b6e6;margin-left:20px"></span><span style="margin-left:5px">CTR (前年)</span></div>
<div class="a r" style="left:-65px;width:150px;top:1334.5px;font-size:12.5px;line-height:16px;color:#616161">0%</div>
<div class="a r" style="left:-65px;width:150px;top:1294.5px;font-size:12.5px;line-height:16px;color:#616161">2%</div>
<div class="a r" style="left:-65px;width:150px;top:1254.5px;font-size:12.5px;line-height:16px;color:#616161">4%</div>
<div class="a r" style="left:-65px;width:150px;top:1214.5px;font-size:12.5px;line-height:16px;color:#616161">6%</div>
<div class="a r" style="left:-65px;width:150px;top:1174.5px;font-size:12.5px;line-height:16px;color:#616161">8%</div>
<div class="a" style="left:-3.0px;width:200px;text-align:center;top:1349.0px;font-size:13px;line-height:16px;letter-spacing:0.5px;color:#616161">2023年7月</div>
<div class="a" style="left:151.0px;width:200px;text-align:center;top:1349.0px;font-size:13px;line-height:16px;letter-spacing:0.5px;color:#616161">2023年11月</div>
<div class="a" style="left:305.0px;width:200px;text-align:center;top:1349.0px;font-size:13px;line-height:16px;letter-spacing:0.5px;color:#616161">2024年3月</div>
<div class="a" style="left:74.0px;width:200px;text-align:center;top:1366.5px;font-size:13px;line-height:16px;letter-spacing:0.5px;color:#616161">2023年9月</div>
<div class="a" style="left:228.0px;width:200px;text-align:center;top:1366.5px;font-size:13px;line-height:16px;letter-spacing:0.5px;color:#616161">2024年1月</div>
<div class="a" style="left:382.0px;width:200px;text-align:center;top:1366.5px;font-size:13px;line-height:16px;letter-spacing:0.5px;color:#616161">2024年5月</div>
<svg class="a" style="left:0;top:0" width="1612" height="2149" viewBox="0 0 1612 2149"><path d="M96.75 1182.5V1342.5H520.5" fill="none" stroke="#757575" stroke-width="1.3"/><polyline points="97.0,1206.3 135.5,1217.3 174.0,1281.1 212.5,1250.3 251.0,1255.9 289.5,1242.1 328.0,1232.5 366.5,1287.1 405.0,1318.1 443.5,1286.9 482.0,1262.3 520.5,1230.5" fill="none" stroke="#1a3fc6" stroke-width="3.2" stroke-linejoin="miter"/><polyline points="97.0,1285.9 135.5,1336.3 174.0,1336.3 212.5,1335.5 251.0,1335.9 289.5,1335.9 328.0,1339.1 366.5,1336.3 405.0,1326.1 443.5,1336.3 482.0,1209.9 520.5,1197.5" fill="none" stroke="#a3b6e6" stroke-width="3.2" stroke-linejoin="miter"/></svg>
<div class="a" style="left:613px;top:1149.5px;height:16px;display:flex;align-items:center;font-size:11.5px;line-height:16px;color:#5f6368"><span style="display:inline-block;width:23px;height:3px;background:#1a3fc6"></span><span style="margin-left:5px">クリック数</span><span style="display:inline-block;width:23px;height:3px;background:#a3b6e6;margin-left:20px"></span><span style="margin-left:5px">クリック数 (前年)</span></div>
<div class="a r" style="left:450.5px;width:150px;top:1334.5px;font-size:12.5px;line-height:16px;color:#616161">0</div>
<div class="a r" style="left:450.5px;width:150px;top:1281.2px;font-size:12.5px;line-height:16px;color:#616161">1万</div>
<div class="a r" style="left:450.5px;width:150px;top:1227.8px;font-size:12.5px;line-height:16px;color:#616161">2万</div>
<div class="a r" style="left:450.5px;width:150px;top:1174.5px;font-size:12.5px;line-height:16px;color:#616161">3万</div>
<div class="a" style="left:513.0px;width:200px;text-align:center;top:1349.0px;font-size:13px;line-height:16px;letter-spacing:0.5px;color:#616161">2023年7月</div>
<div class="a" style="left:667.0px;width:200px;text-align:center;top:1349.0px;font-size:13px;line-height:16px;letter-spacing:0.5px;color:#616161">2023年11月</div>
<div class="a" style="left:821.0px;width:200px;text-align:center;top:1349.0px;font-size:13px;line-height:16px;letter-spacing:0.5px;color:#616161">2024年3月</div>
<div class="a" style="left:590.0px;width:200px;text-align:center;top:1366.5px;font-size:13px;line-height:16px;letter-spacing:0.5px;color:#616161">2023年9月</div>
<div class="a" style="left:744.0px;width:200px;text-align:center;top:1366.5px;font-size:13px;line-height:16px;letter-spacing:0.5px;color:#616161">2024年1月</div>
<div class="a" style="left:898.0px;width:200px;text-align:center;top:1366.5px;font-size:13px;line-height:16px;letter-spacing:0.5px;color:#616161">2024年5月</div>
<svg class="a" style="left:0;top:0" width="1612" height="2149" viewBox="0 0 1612 2149"><path d="M612.75 1182.5V1342.5H1036.5" fill="none" stroke="#757575" stroke-width="1.3"/><polyline points="613.0,1336.8 651.5,1335.1 690.0,1337.6 728.5,1337.9 767.0,1331.1 805.5,1339.4 844.0,1339.6 882.5,1316.9 921.0,1304.7 959.5,1317.3 998.0,1301.1 1036.5,1335.4" fill="none" stroke="#1a3fc6" stroke-width="3.2" stroke-linejoin="miter"/><polyline points="613.0,1332.3 651.5,1313.7 690.0,1314.6 728.5,1315.2 767.0,1318.4 805.5,1310.0 844.0,1194.3 882.5,1302.8 921.0,1330.8 959.5,1299.7 998.0,1334.8 1036.5,1335.4" fill="none" stroke="#a3b6e6" stroke-width="3.2" stroke-linejoin="miter"/></svg>
<div class="a" style="left:1129px;top:1149.5px;height:16px;display:flex;align-items:center;font-size:11.5px;line-height:16px;color:#5f6368"><span style="display:inline-block;width:23px;height:3px;background:#1a3fc6"></span><span style="margin-left:5px">CPC</span><span style="display:inline-block;width:23px;height:3px;background:#a3b6e6;margin-left:20px"></span><span style="margin-left:5px">CPC (前年)</span></div>
<div class="a r" style="left:968px;width:150px;top:1334.5px;font-size:12.5px;line-height:16px;color:#616161">0</div>
<div class="a r" style="left:968px;width:150px;top:1294.5px;font-size:12.5px;line-height:16px;color:#616161">1,000</div>
<div class="a r" style="left:968px;width:150px;top:1254.5px;font-size:12.5px;line-height:16px;color:#616161">2,000</div>
<div class="a r" style="left:968px;width:150px;top:1214.5px;font-size:12.5px;line-height:16px;color:#616161">3,000</div>
<div class="a r" style="left:968px;width:150px;top:1174.5px;font-size:12.5px;line-height:16px;color:#616161">4,000</div>
<div class="a" style="left:1029.0px;width:200px;text-align:center;top:1349.0px;font-size:13px;line-height:16px;letter-spacing:0.5px;color:#616161">2023年7月</div>
<div class="a" style="left:1183.0px;width:200px;text-align:center;top:1349.0px;font-size:13px;line-height:16px;letter-spacing:0.5px;color:#616161">2023年11月</div>
<div class="a" style="left:1337.0px;width:200px;text-align:center;top:1349.0px;font-size:13px;line-height:16px;letter-spacing:0.5px;color:#616161">2024年3月</div>
<div class="a" style="left:1106.0px;width:200px;text-align:center;top:1366.5px;font-size:13px;line-height:16px;letter-spacing:0.5px;color:#616161">2023年9月</div>
<div class="a" style="left:1260.0px;width:200px;text-align:center;top:1366.5px;font-size:13px;line-height:16px;letter-spacing:0.5px;color:#616161">2024年1月</div>
<div class="a" style="left:1414.0px;width:200px;text-align:center;top:1366.5px;font-size:13px;line-height:16px;letter-spacing:0.5px;color:#616161">2024年5月</div>
<svg class="a" style="left:0;top:0" width="1612" height="2149" viewBox="0 0 1612 2149"><path d="M1128.75 1182.5V1342.5H1552.5" fill="none" stroke="#757575" stroke-width="1.3"/><polyline points="1129.0,1261.9 1167.5,1258.8 1206.0,1226.7 1244.5,1190.8 1283.0,1227.0 1321.5,1192.5 1360.0,1183.0 1398.5,1290.3 1437.0,1317.9 1475.5,1292.9 1514.0,1331.2 1552.5,1306.7" fill="none" stroke="#1a3fc6" stroke-width="3.2" stroke-linejoin="miter"/><polyline points="1129.0,1288.9 1167.5,1325.2 1206.0,1316.8 1244.5,1260.3 1283.0,1266.2 1321.5,1292.0 1360.0,1315.2 1398.5,1268.7 1437.0,1226.8 1475.5,1314.3 1514.0,1270.3 1552.5,1267.2" fill="none" stroke="#a3b6e6" stroke-width="3.2" stroke-linejoin="miter"/></svg>
<div class="a" style="left:97px;top:1450.5px;height:16px;display:flex;align-items:center;font-size:11.5px;line-height:16px;color:#5f6368"><span style="display:inline-block;width:23px;height:3px;background:#1a3fc6"></span><span style="margin-left:5px">CVR</span><span style="display:inline-block;width:23px;height:3px;background:#a3b6e6;margin-left:20px"></span><span style="margin-left:5px">CVR (前年)</span></div>
<div class="a r" style="left:-65px;width:150px;top:1635.5px;font-size:12.5px;line-height:16px;color:#616161">0%</div>
<div class="a r" style="left:-65px;width:150px;top:1595.5px;font-size:12.5px;line-height:16px;color:#616161">5%</div>
<div class="a r" style="left:-65px;width:150px;top:1555.5px;font-size:12.5px;line-height:16px;color:#616161">10%</div>
<div class="a r" style="left:-65px;width:150px;top:1515.5px;font-size:12.5px;line-height:16px;color:#616161">15%</div>
<div class="a r" style="left:-65px;width:150px;top:1475.5px;font-size:12.5px;line-height:16px;color:#616161">20%</div>
<div class="a" style="left:-3.0px;width:200px;text-align:center;top:1650.0px;font-size:13px;line-height:16px;letter-spacing:0.5px;color:#616161">2023年7月</div>
<div class="a" style="left:151.0px;width:200px;text-align:center;top:1650.0px;font-size:13px;line-height:16px;letter-spacing:0.5px;color:#616161">2023年11月</div>
<div class="a" style="left:305.0px;width:200px;text-align:center;top:1650.0px;font-size:13px;line-height:16px;letter-spacing:0.5px;color:#616161">2024年3月</div>
<div class="a" style="left:74.0px;width:200px;text-align:center;top:1667.5px;font-size:13px;line-height:16px;letter-spacing:0.5px;color:#616161">2023年9月</div>
<div class="a" style="left:228.0px;width:200px;text-align:center;top:1667.5px;font-size:13px;line-height:16px;letter-spacing:0.5px;color:#616161">2024年1月</div>
<div class="a" style="left:382.0px;width:200px;text-align:center;top:1667.5px;font-size:13px;line-height:16px;letter-spacing:0.5px;color:#616161">2024年5月</div>
<svg class="a" style="left:0;top:0" width="1612" height="2149" viewBox="0 0 1612 2149"><path d="M96.75 1483.5V1643.5H520.5" fill="none" stroke="#757575" stroke-width="1.3"/><polyline points="97.0,1499.5 135.5,1567.5 174.0,1557.9 212.5,1570.7 251.0,1604.3 289.5,1579.5 328.0,1598.7 366.5,1635.5 405.0,1641.1 443.5,1622.7 482.0,1621.9 520.5,1581.1" fill="none" stroke="#1a3fc6" stroke-width="3.2" stroke-linejoin="miter"/><polyline points="97.0,1549.1 135.5,1597.1 174.0,1582.7 212.5,1584.3 251.0,1589.1 289.5,1597.1 328.0,1619.5 366.5,1582.7 405.0,1526.7 443.5,1603.1 482.0,1523.5 520.5,1528.7" fill="none" stroke="#a3b6e6" stroke-width="3.2" stroke-linejoin="miter"/></svg>
<div class="a" style="left:613px;top:1450.5px;height:16px;display:flex;align-items:center;font-size:11.5px;line-height:16px;color:#5f6368"><span style="display:inline-block;width:23px;height:3px;background:#1a3fc6"></span><span style="margin-left:5px">コンバージョン</span><span style="display:inline-block;width:23px;height:3px;background:#a3b6e6;margin-left:20px"></span><span style="margin-left:5px">コンバージョン (前年)</span></div>
<div class="a r" style="left:452.79999999999995px;width:150px;top:1635.5px;font-size:12.5px;line-height:16px;color:#616161">0</div>
<div class="a r" style="left:452.79999999999995px;width:150px;top:1595.5px;font-size:12.5px;line-height:16px;color:#616161">250</div>
<div class="a r" style="left:452.79999999999995px;width:150px;top:1555.5px;font-size:12.5px;line-height:16px;color:#616161">500</div>
<div class="a r" style="left:452.79999999999995px;width:150px;top:1515.5px;font-size:12.5px;line-height:16px;color:#616161">750</div>
<div class="a r" style="left:452.79999999999995px;width:150px;top:1475.5px;font-size:12.5px;line-height:16px;color:#616161">1,000</div>
<div class="a" style="left:513.0px;width:200px;text-align:center;top:1650.0px;font-size:13px;line-height:16px;letter-spacing:0.5px;color:#616161">2023年7月</div>
<div class="a" style="left:667.0px;width:200px;text-align:center;top:1650.0px;font-size:13px;line-height:16px;letter-spacing:0.5px;color:#616161">2023年11月</div>
<div class="a" style="left:821.0px;width:200px;text-align:center;top:1650.0px;font-size:13px;line-height:16px;letter-spacing:0.5px;color:#616161">2024年3月</div>
<div class="a" style="left:590.0px;width:200px;text-align:center;top:1667.5px;font-size:13px;line-height:16px;letter-spacing:0.5px;color:#616161">2023年9月</div>
<div class="a" style="left:744.0px;width:200px;text-align:center;top:1667.5px;font-size:13px;line-height:16px;letter-spacing:0.5px;color:#616161">2024年1月</div>
<div class="a" style="left:898.0px;width:200px;text-align:center;top:1667.5px;font-size:13px;line-height:16px;letter-spacing:0.5px;color:#616161">2024年5月</div>
<svg class="a" style="left:0;top:0" width="1612" height="2149" viewBox="0 0 1612 2149"><path d="M612.75 1483.5V1643.5H1036.5" fill="none" stroke="#757575" stroke-width="1.3"/><polyline points="613.0,1612.8 651.5,1622.4 690.0,1627.7 728.5,1631.0 767.0,1626.9 805.5,1636.1 844.0,1638.5 882.5,1635.5 921.0,1640.5 959.5,1623.7 998.0,1610.2 1036.5,1626.7" fill="none" stroke="#1a3fc6" stroke-width="3.2" stroke-linejoin="miter"/><polyline points="613.0,1609.3 651.5,1592.3 690.0,1578.9 728.5,1583.0 767.0,1593.3 805.5,1588.3 844.0,1512.6 882.5,1555.2 921.0,1596.0 959.5,1577.7 998.0,1607.8 1036.5,1613.4" fill="none" stroke="#a3b6e6" stroke-width="3.2" stroke-linejoin="miter"/></svg>
<div class="a" style="left:1129px;top:1450.5px;height:16px;display:flex;align-items:center;font-size:11.5px;line-height:16px;color:#5f6368"><span style="display:inline-block;width:23px;height:3px;background:#1a3fc6"></span><span style="margin-left:5px">CPA</span><span style="display:inline-block;width:23px;height:3px;background:#a3b6e6;margin-left:20px"></span><span style="margin-left:5px">CPA (前年)</span></div>
<div class="a r" style="left:966.3px;width:150px;top:1635.5px;font-size:12.5px;line-height:16px;color:#616161">0</div>
<div class="a r" style="left:966.3px;width:150px;top:1582.2px;font-size:12.5px;line-height:16px;color:#616161">10万</div>
<div class="a r" style="left:966.3px;width:150px;top:1528.8px;font-size:12.5px;line-height:16px;color:#616161">20万</div>
<div class="a r" style="left:966.3px;width:150px;top:1475.5px;font-size:12.5px;line-height:16px;color:#616161">30万</div>
<div class="a" style="left:1029.0px;width:200px;text-align:center;top:1650.0px;font-size:13px;line-height:16px;letter-spacing:0.5px;color:#616161">2023年7月</div>
<div class="a" style="left:1183.0px;width:200px;text-align:center;top:1650.0px;font-size:13px;line-height:16px;letter-spacing:0.5px;color:#616161">2023年11月</div>
<div class="a" style="left:1337.0px;width:200px;text-align:center;top:1650.0px;font-size:13px;line-height:16px;letter-spacing:0.5px;color:#616161">2024年3月</div>
<div class="a" style="left:1106.0px;width:200px;text-align:center;top:1667.5px;font-size:13px;line-height:16px;letter-spacing:0.5px;color:#616161">2023年9月</div>
<div class="a" style="left:1260.0px;width:200px;text-align:center;top:1667.5px;font-size:13px;line-height:16px;letter-spacing:0.5px;color:#616161">2024年1月</div>
<div class="a" style="left:1414.0px;width:200px;text-align:center;top:1667.5px;font-size:13px;line-height:16px;letter-spacing:0.5px;color:#616161">2024年5月</div>
<svg class="a" style="left:0;top:0" width="1612" height="2149" viewBox="0 0 1612 2149"><path d="M1128.75 1483.5V1643.5H1552.5" fill="none" stroke="#757575" stroke-width="1.3"/><polyline points="1129.0,1637.5 1167.5,1631.8 1206.0,1629.1 1244.5,1621.2 1283.0,1611.8 1321.5,1618.6 1360.0,1605.7 1398.5,1577.0 1437.0,1521.6 1475.5,1618.2 1514.0,1637.9 1552.5,1637.4" fill="none" stroke="#1a3fc6" stroke-width="3.2" stroke-linejoin="miter"/><polyline points="1129.0,1636.3 1167.5,1639.4 1206.0,1638.2 1244.5,1628.0 1283.0,1628.6 1321.5,1631.7 1360.0,1631.1 1398.5,1630.2 1437.0,1633.2 1475.5,1635.7 1514.0,1637.3 1552.5,1636.3" fill="none" stroke="#a3b6e6" stroke-width="3.2" stroke-linejoin="miter"/></svg>
<div class="card" style="left:22px;top:1945px;width:1569px;height:160px"></div>
<div class="a" style="left:31.5px;top:1955.5px;font-size:16px;line-height:20px;letter-spacing:1.5px;color:#5f6368">コメント記入欄</div>
<div class="a" style="left:29px;top:2118px;font-size:13px;line-height:16px;color:#5f6368">*比較期間はすべて前年</div>
<div class="a" style="left:725px;top:2114px;font-size:15px;line-height:20px;color:#1a73e8;text-decoration:underline">フィードバックを送る</div>
<div class="a" style="left:1476px;top:2112px;font-size:27px;line-height:32px;color:#222;letter-spacing:-1.3px;-webkit-text-stroke:0.5px #222">inhouse</div>
<svg class="a" style="left:1566.5px;top:2118px" width="18.5" height="18.5" viewBox="0 0 18 18.4"><path d="M6.2 1.2Q6.2 0 9 0Q11.8 0 11.8 1.2L11.8 3.4Q11.8 6.4 14.8 6.4L16.8 6.4Q18 6.4 18 9.2Q18 12 16.8 12L14.8 12Q11.8 12 11.8 15L11.8 17.2Q11.8 18.4 9 18.4Q6.2 18.4 6.2 17.2L6.2 15Q6.2 12 3.2 12L1.2 12Q0 12 0 9.2Q0 6.4 1.2 6.4L3.2 6.4Q6.2 6.4 6.2 3.4z" fill="#f5d000"/></svg>
</body></html>
